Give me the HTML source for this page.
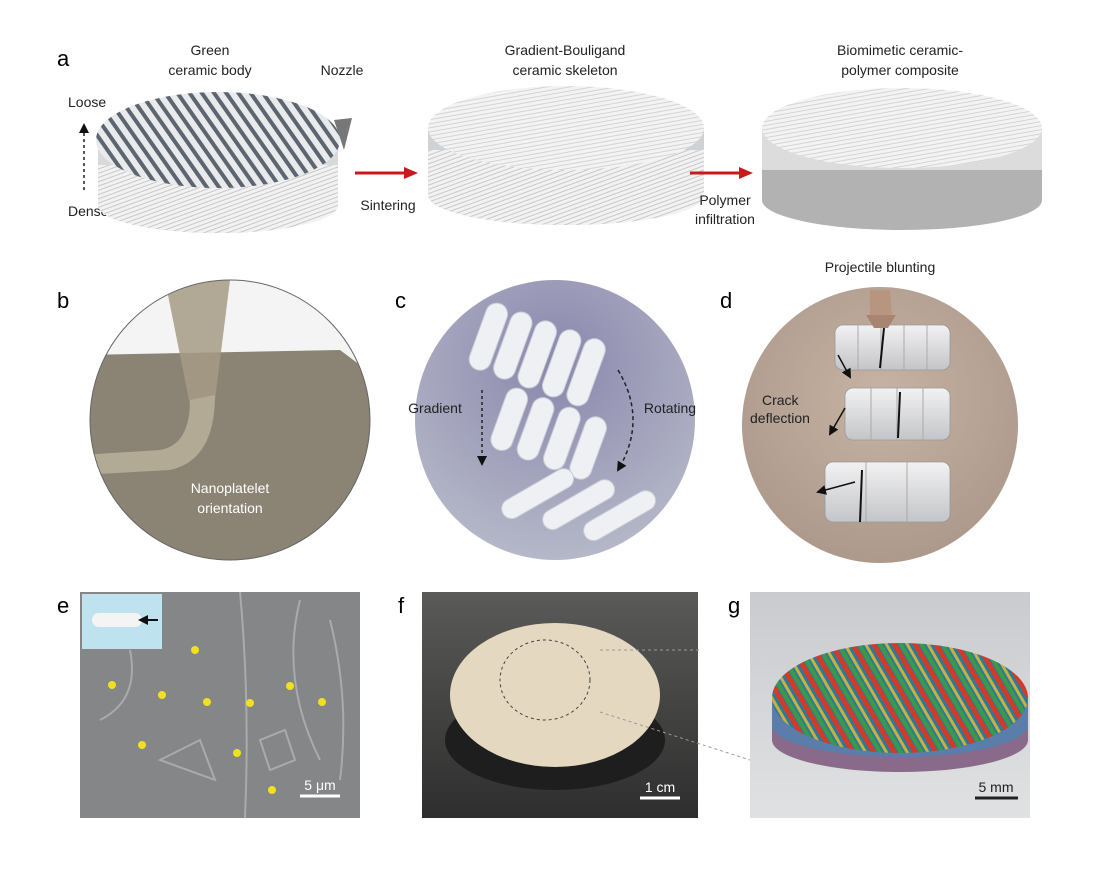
<!DOCTYPE html>
<html><head><style>
body{margin:0;background:#fff;}
svg{display:block}
text{font-family:"Liberation Sans",sans-serif;}
</style></head><body>
<svg width="1106" height="872" viewBox="0 0 1106 872" xmlns="http://www.w3.org/2000/svg">
<defs>
<pattern id="rods" width="10" height="10" patternUnits="userSpaceOnUse" patternTransform="rotate(-35)">
<rect width="10" height="10" fill="#e8eaec"/><rect width="4" height="10" fill="#5d6670"/></pattern>
<pattern id="fine" width="4" height="4" patternUnits="userSpaceOnUse" patternTransform="rotate(70)">
<rect width="4" height="4" fill="#f2f2f2"/><rect width="1" height="4" fill="#c8c8c8"/></pattern>
<pattern id="fine2" width="4" height="4" patternUnits="userSpaceOnUse" patternTransform="rotate(80)">
<rect width="4" height="4" fill="#f3f3f3"/><rect width="1" height="4" fill="#d4d4d4"/></pattern>
<radialGradient id="cg" cx="50%" cy="30%" r="70%"><stop offset="0" stop-color="#8a87ad"/><stop offset="1" stop-color="#b5b8c8"/></radialGradient>
<radialGradient id="dg" cx="50%" cy="40%" r="70%"><stop offset="0" stop-color="#c6b3a4"/><stop offset="1" stop-color="#a89587"/></radialGradient>
<linearGradient id="fbg" x1="0" y1="0" x2="0" y2="1"><stop offset="0" stop-color="#5a5a58"/><stop offset="1" stop-color="#2e2e2e"/></linearGradient>
<linearGradient id="gbg" x1="0" y1="0" x2="0" y2="1"><stop offset="0" stop-color="#c9cbce"/><stop offset="1" stop-color="#e0e1e3"/></linearGradient>
<linearGradient id="cyl" x1="0" y1="0" x2="0" y2="1"><stop offset="0" stop-color="#f2f2f3"/><stop offset="1" stop-color="#c4c5c8"/></linearGradient>
<pattern id="gstr" width="18" height="18" patternUnits="userSpaceOnUse" patternTransform="rotate(-30)">
<rect width="18" height="18" fill="#2a7a9a"/><rect width="5" height="18" fill="#d23a2a"/><rect x="6" width="4" height="18" fill="#3a9a4a"/><rect x="12" width="3" height="18" fill="#c8b040"/></pattern>
<clipPath id="cb"><circle cx="230" cy="420" r="140"/></clipPath>
<marker id="ra" markerUnits="userSpaceOnUse" markerWidth="14" markerHeight="14" refX="10" refY="7" orient="auto"><path d="M0,1 L14,7 L0,13z" fill="#c8191d"/></marker>
<marker id="ka" markerUnits="userSpaceOnUse" markerWidth="10" markerHeight="10" refX="8" refY="5" orient="auto"><path d="M0,0 L10,5 L0,10z" fill="#111"/></marker>
</defs>

<!-- Panel a -->
<text x="57" y="66" font-size="22">a</text>
<text x="210" y="55" font-size="14" text-anchor="middle" fill="#222">Green</text>
<text x="210" y="75" font-size="14" text-anchor="middle" fill="#222">ceramic body</text>
<text x="342" y="75" font-size="14" text-anchor="middle" fill="#222">Nozzle</text>
<text x="68" y="107" font-size="14" fill="#222">Loose</text>
<text x="68" y="216" font-size="14" fill="#222">Dense</text>
<line x1="84" y1="190" x2="84" y2="125" stroke="#222" stroke-width="1.5" stroke-dasharray="3,3" marker-end="url(#ka)"/>
<path d="M98,150 L98,205 A120,28 0 0 0 338,205 L338,150z" fill="#d7d9db"/>
<path d="M98,165 L98,205 A120,28 0 0 0 338,205 L338,165z" fill="url(#fine)"/>
<ellipse cx="218" cy="140" rx="122" ry="48" fill="url(#rods)"/>
<path d="M334,120 L352,118 L344,150z" fill="#777"/>
<line x1="355" y1="173" x2="414" y2="173" stroke="#c8191d" stroke-width="3" marker-end="url(#ra)"/>
<text x="388" y="210" font-size="14" text-anchor="middle" fill="#222">Sintering</text>

<text x="565" y="55" font-size="14" text-anchor="middle" fill="#222">Gradient-Bouligand</text>
<text x="565" y="75" font-size="14" text-anchor="middle" fill="#222">ceramic skeleton</text>
<path d="M428,130 L428,195 A138,30 0 0 0 704,195 L704,130z" fill="#cfd2d4"/>
<path d="M428,150 L428,195 A138,30 0 0 0 704,195 L704,150z" fill="url(#fine)"/>
<ellipse cx="566" cy="128" rx="138" ry="42" fill="url(#fine2)"/>
<line x1="690" y1="173" x2="749" y2="173" stroke="#c8191d" stroke-width="3" marker-end="url(#ra)"/>
<text x="725" y="205" font-size="14" text-anchor="middle" fill="#222">Polymer</text>
<text x="725" y="224" font-size="14" text-anchor="middle" fill="#222">infiltration</text>

<text x="900" y="55" font-size="14" text-anchor="middle" fill="#222">Biomimetic ceramic-</text>
<text x="900" y="75" font-size="14" text-anchor="middle" fill="#222">polymer composite</text>
<path d="M762,130 L762,200 A140,30 0 0 0 1042,200 L1042,130z" fill="#dcdcdc"/>
<path d="M762,170 L762,200 A140,30 0 0 0 1042,200 L1042,170z" fill="#a8a8a8" opacity="0.8"/>
<ellipse cx="902" cy="128" rx="140" ry="40" fill="url(#fine2)"/>

<!-- Panel b -->
<text x="57" y="308" font-size="22">b</text>
<g clip-path="url(#cb)">
<rect x="80" y="270" width="300" height="300" fill="#f4f4f4"/>
<path d="M80,355 L340,350 L380,380 L380,570 L80,570z" fill="#8b8474"/>
<path d="M165,280 L230,280 L215,400 L190,405z" fill="#a59a85" opacity="0.85"/>
<path d="M190,400 L215,395 Q215,460 170,470 L80,475 L80,455 L160,450 Q190,445 190,400z" fill="#b3aa96"/>
</g>
<circle cx="230" cy="420" r="140" fill="none" stroke="#666" stroke-width="1"/>
<text x="230" y="493" font-size="14" text-anchor="middle" fill="#fff">Nanoplatelet</text>
<text x="230" y="513" font-size="14" text-anchor="middle" fill="#fff">orientation</text>

<!-- Panel c -->
<text x="395" y="308" font-size="22">c</text>
<circle cx="555" cy="420" r="140" fill="url(#cg)"/>
<g fill="#eef0f4" stroke="#c8ccd6" stroke-width="1">
<g transform="translate(490,300) rotate(20)"><rect x="0" y="0" width="22" height="70" rx="11"/><rect x="26" y="0" width="22" height="70" rx="11"/><rect x="52" y="0" width="22" height="70" rx="11"/><rect x="78" y="0" width="22" height="70" rx="11"/><rect x="104" y="0" width="22" height="70" rx="11"/></g>
<g transform="translate(510,385) rotate(20)"><rect x="0" y="0" width="22" height="65" rx="11"/><rect x="28" y="0" width="22" height="65" rx="11"/><rect x="56" y="0" width="22" height="65" rx="11"/><rect x="84" y="0" width="22" height="65" rx="11"/></g>
<g transform="translate(498,505) rotate(-30)"><rect x="0" y="0" width="80" height="20" rx="10"/><rect x="30" y="30" width="80" height="20" rx="10"/><rect x="60" y="60" width="80" height="20" rx="10"/></g>
</g>
<text x="435" y="413" font-size="14" text-anchor="middle" fill="#222">Gradient</text>
<line x1="482" y1="390" x2="482" y2="464" stroke="#222" stroke-width="1.5" stroke-dasharray="3,3" marker-end="url(#ka)"/>
<text x="670" y="413" font-size="14" text-anchor="middle" fill="#222">Rotating</text>
<path d="M618,370 Q648,420 618,470" fill="none" stroke="#222" stroke-width="1.5" stroke-dasharray="4,3" marker-end="url(#ka)"/>

<!-- Panel d -->
<text x="720" y="308" font-size="22">d</text>
<text x="880" y="272" font-size="14" text-anchor="middle" fill="#222">Projectile blunting</text>
<circle cx="880" cy="425" r="138" fill="url(#dg)"/>
<g fill="url(#cyl)" stroke="#999" stroke-width="0.8">
<rect x="835" y="325" width="115" height="45" rx="8"/>
<rect x="845" y="388" width="105" height="52" rx="8"/>
<rect x="825" y="462" width="125" height="60" rx="8"/>
</g>
<g stroke="#aaa" stroke-width="1">
<line x1="858" y1="325" x2="858" y2="370"/><line x1="881" y1="325" x2="881" y2="370"/><line x1="904" y1="325" x2="904" y2="370"/><line x1="927" y1="325" x2="927" y2="370"/>
<line x1="871" y1="388" x2="871" y2="440"/><line x1="897" y1="388" x2="897" y2="440"/><line x1="923" y1="388" x2="923" y2="440"/>
<line x1="866" y1="462" x2="866" y2="522"/><line x1="907" y1="462" x2="907" y2="522"/>
</g>
<line x1="884" y1="328" x2="880" y2="368" stroke="#111" stroke-width="2"/>
<line x1="900" y1="392" x2="898" y2="438" stroke="#111" stroke-width="2"/>
<line x1="862" y1="470" x2="860" y2="522" stroke="#111" stroke-width="2"/>
<path d="M870,290 L890,290 L892,315 L870,315z" fill="#b8957e"/>
<path d="M866,315 L896,315 L888,328 L874,328z" fill="#a88570"/>
<text x="762" y="405" font-size="14" fill="#222">Crack</text>
<text x="750" y="423" font-size="14" fill="#222">deflection</text>
<line x1="838" y1="355" x2="850" y2="377" stroke="#111" stroke-width="1.5" marker-end="url(#ka)"/>
<line x1="845" y1="408" x2="830" y2="434" stroke="#111" stroke-width="1.5" marker-end="url(#ka)"/>
<line x1="855" y1="482" x2="818" y2="492" stroke="#111" stroke-width="1.5" marker-end="url(#ka)"/>

<!-- Panel e -->
<text x="57" y="613" font-size="22">e</text>
<rect x="80" y="592" width="280" height="226" fill="#848688"/>
<g fill="none" stroke="#b8babc" stroke-width="2" opacity="0.7">
<path d="M240,592 Q250,700 245,818"/><path d="M300,600 Q280,680 320,760"/><path d="M100,720 Q140,700 130,650"/><path d="M160,760 L200,740 L215,780z"/><path d="M260,740 L285,730 L295,760 L270,770z"/><path d="M330,620 Q350,700 340,780"/>
</g>
<rect x="82" y="594" width="80" height="55" fill="#bfe3ee"/>
<rect x="92" y="613" width="50" height="14" rx="7" fill="#f4f4f4"/>
<line x1="158" y1="620" x2="140" y2="620" stroke="#111" stroke-width="2" marker-end="url(#ka)"/>
<g fill="#f0e020">
<circle cx="195" cy="650" r="4"/><circle cx="112" cy="685" r="4"/><circle cx="162" cy="695" r="4"/><circle cx="207" cy="702" r="4"/><circle cx="250" cy="703" r="4"/><circle cx="290" cy="686" r="4"/><circle cx="322" cy="702" r="4"/><circle cx="142" cy="745" r="4"/><circle cx="237" cy="753" r="4"/><circle cx="272" cy="790" r="4"/>
</g>
<line x1="300" y1="796" x2="340" y2="796" stroke="#fff" stroke-width="3"/>
<text x="320" y="790" font-size="14" text-anchor="middle" fill="#fff">5 μm</text>

<!-- Panel f -->
<text x="398" y="613" font-size="22">f</text>
<rect x="422" y="592" width="276" height="226" fill="url(#fbg)"/>
<ellipse cx="555" cy="740" rx="110" ry="50" fill="#1e1e1e"/>
<ellipse cx="555" cy="695" rx="105" ry="72" fill="#e4d8c0"/>
<ellipse cx="545" cy="680" rx="45" ry="40" fill="none" stroke="#444" stroke-dasharray="3,3"/>
<line x1="600" y1="650" x2="700" y2="650" stroke="#999" stroke-dasharray="3,3"/>
<line x1="600" y1="712" x2="750" y2="760" stroke="#999" stroke-dasharray="3,3"/>
<line x1="640" y1="798" x2="680" y2="798" stroke="#fff" stroke-width="3"/>
<text x="660" y="792" font-size="14" text-anchor="middle" fill="#fff">1 cm</text>

<!-- Panel g -->
<text x="728" y="613" font-size="22">g</text>
<rect x="750" y="592" width="280" height="226" fill="url(#gbg)"/>
<path d="M772,700 L772,740 A128,32 0 0 0 1028,740 L1028,700z" fill="#8a6a8a"/>
<path d="M772,705 L772,725 A128,32 0 0 0 1028,725 L1028,705z" fill="#3a8ac0" opacity="0.6"/>
<ellipse cx="900" cy="698" rx="128" ry="55" fill="url(#gstr)"/>
<line x1="975" y1="798" x2="1018" y2="798" stroke="#222" stroke-width="3"/>
<text x="996" y="792" font-size="14" text-anchor="middle" fill="#222">5 mm</text>
</svg>
</body></html>
